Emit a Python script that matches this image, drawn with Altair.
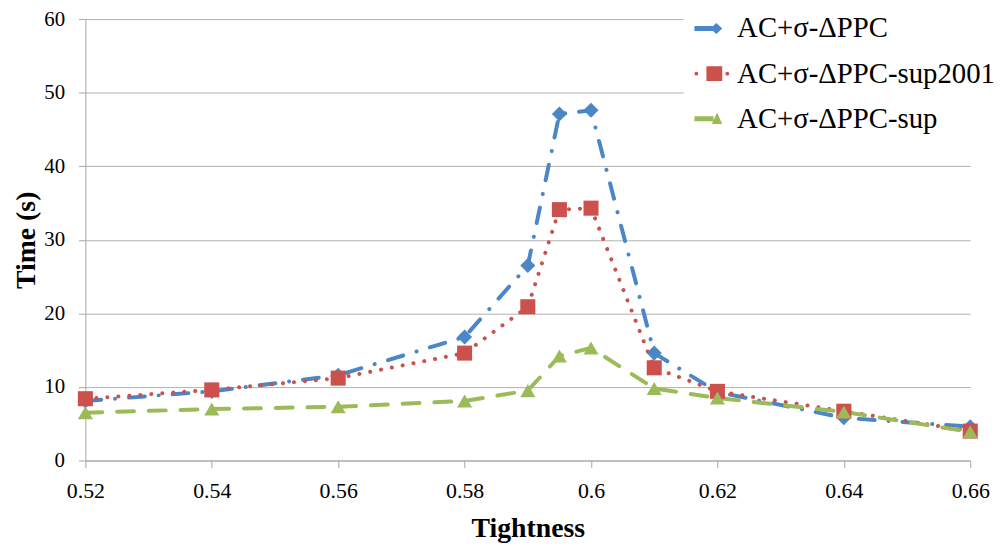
import altair as alt
import pandas as pd

tightness = [0.52, 0.54, 0.56, 0.58, 0.59, 0.595, 0.60, 0.61, 0.62, 0.64, 0.66]
series_names = ["AC+σ-ΔPPC", "AC+σ-ΔPPC-sup2001", "AC+σ-ΔPPC-sup"]
times_ppc = [8.1, 9.4, 11.6, 16.8, 26.5, 47.1, 47.6, 14.6, 9.3, 5.8, 4.6]
times_sup2001 = [8.4, 9.6, 11.2, 14.6, 20.9, 34.1, 34.3, 12.6, 9.4, 6.7, 4.0]
times_sup = [6.5, 7.0, 7.3, 8.1, 9.5, 14.2, 15.3, 9.8, 8.5, 6.6, 3.9]
x_ticks = [0.52, 0.54, 0.56, 0.58, 0.60, 0.62, 0.64, 0.66]
y_ticks = [0, 10, 20, 30, 40, 50, 60]

colors = ["#4b86c6", "#cc504c", "#9bbb59"]
shapes = ["diamond", "square", "triangle-up"]
dashes = [[16, 14, 0.1, 14], [0.1, 11], [17, 15]]

# legend symbols: short line + marker (unit coordinates, -1..1)
leg_paths = [
    "M-1,-0.14L0.05,-0.14L0.05,0.14L-1,0.14Z M-0.08,0L0.26,-0.32L0.6,0L0.26,0.32Z",
    "M-1,0A0.11,0.11 0 1 0 -0.78,0A0.11,0.11 0 1 0 -1,0Z M-0.31,-0.43L0.6,-0.43L0.6,0.43L-0.31,0.43Z M0.78,0A0.11,0.11 0 1 0 1,0A0.11,0.11 0 1 0 0.78,0Z",
    "M-1,-0.14L0.1,-0.14L0.1,0.14L-1,0.14Z M0,0.3L0.3,-0.36L0.6,0.3Z",
]

rows = []
for name, vals in zip(series_names, [times_ppc, times_sup2001, times_sup]):
    for t, v in zip(tightness, vals):
        rows.append({"Tightness": t, "Time": v, "Series": name, "Legend": name})
df = pd.DataFrame(rows)

legend = alt.Legend(
    title=None,
    orient="none",
    legendX=603,
    legendY=-19,
    padding=11,
    fillColor="white",
    symbolSize=1225,
    symbolOpacity=1,
    symbolStrokeWidth=0,
    labelFont="Liberation Serif",
    labelFontSize=29,
    labelColor="black",
    labelOffset=8,
    labelLimit=500,
    rowPadding=12.5,
)

xenc = alt.X(
    "Tightness:Q",
    scale=alt.Scale(domain=[0.52, 0.66], nice=False, zero=False),
    axis=alt.Axis(
        title="Tightness",
        values=x_ticks,
        format=".2~f",
        grid=False,
        labelFlush=False,
        labelFontSize=22,
        tickSize=7,
        labelPadding=13,
        titlePadding=14,
    ),
)
yenc = alt.Y(
    "Time:Q",
    scale=alt.Scale(domain=[0, 60], nice=False),
    axis=alt.Axis(
        title="Time (s)",
        values=y_ticks,
        grid=True,
        labelFlush=False,
        tickSize=7,
        labelPadding=14,
        titlePadding=3,
    ),
)
color = alt.Color("Series:N", scale=alt.Scale(domain=series_names, range=colors), legend=None)

lines = alt.Chart(df).mark_line(strokeWidth=4, strokeCap="round").encode(
    x=xenc,
    y=yenc,
    color=color,
    strokeDash=alt.StrokeDash("Series:N", scale=alt.Scale(domain=series_names, range=dashes), legend=None),
    detail="Series:N",
)

points = alt.Chart(df).mark_point(filled=True, size=230, opacity=1).encode(
    x=xenc,
    y=yenc,
    color=color,
    shape=alt.Shape("Series:N", scale=alt.Scale(domain=series_names, range=shapes), legend=None),
)

legend_layer = alt.Chart(df).mark_point(filled=True, size=1225, opacity=0, strokeWidth=0).encode(
    x=xenc,
    y=yenc,
    fill=alt.Fill("Legend:N", scale=alt.Scale(domain=series_names, range=colors), legend=legend),
    shape=alt.Shape("Legend:N", scale=alt.Scale(domain=series_names, range=leg_paths), legend=legend),
)

chart = (
    alt.layer(lines, points, legend_layer)
    .resolve_scale(shape="independent", fill="independent")
    .properties(
        width=892,
        height=445,
        autosize=alt.AutoSizeParams(type="none"),
        padding={"left": 78, "top": 9, "right": 30, "bottom": 84},
    )
    .configure_view(stroke=None)
    .configure_axis(
        labelFont="Liberation Serif",
        labelFontSize=21,
        labelColor="black",
        titleFont="Liberation Serif",
        titleFontSize=28,
        titleFontWeight="bold",
        titleColor="black",
        domainColor="#a6a6a6",
        tickColor="#a6a6a6",
        gridColor="#b0b0b0",
        domainWidth=1,
        gridWidth=1,
    )
)

chart.save("out.html", embed_options={"renderer": "svg", "actions": False})
